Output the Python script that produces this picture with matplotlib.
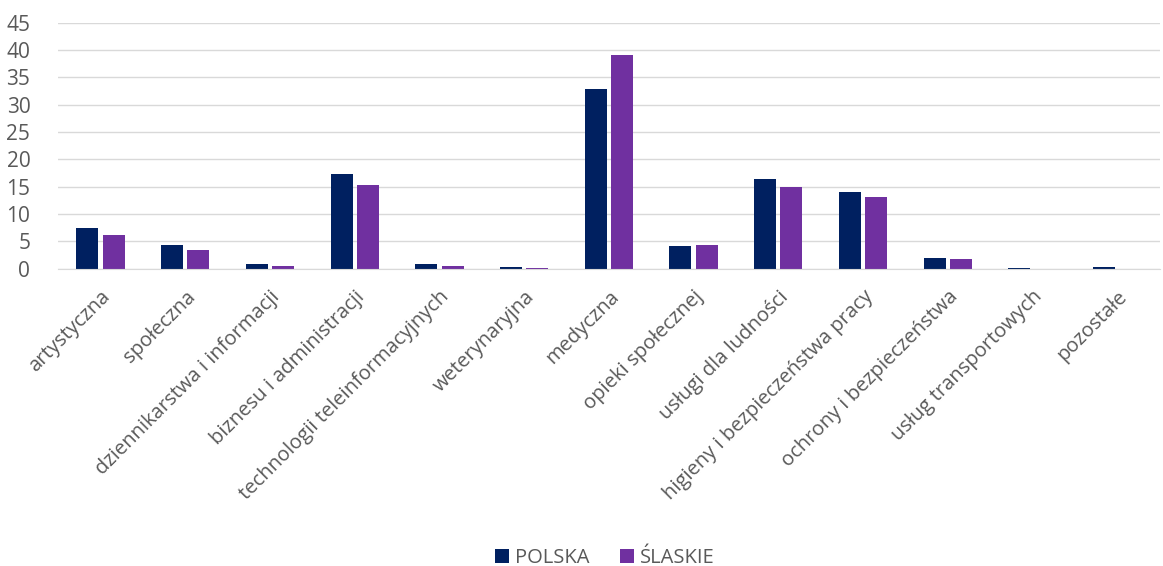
import matplotlib.pyplot as plt
import numpy as np

plt.rcParams['font.family'] = ['Open Sans', 'DejaVu Sans']

categories = ["artystyczna", "społeczna", "dziennikarstwa i informacji",
              "biznesu i administracji", "technologii teleinformacyjnych",
              "weterynaryjna", "medyczna", "opieki społecznej",
              "usługi dla ludności", "higieny i bezpieczeństwa pracy",
              "ochrony i bezpieczeństwa", "usług transportowych", "pozostałe"]
polska = [7.5, 4.4, 0.9, 17.4, 0.9, 0.4, 32.9, 4.2, 16.5, 14.1, 1.9, 0.2, 0.3]
slaskie = [6.2, 3.5, 0.5, 15.4, 0.5, 0.1, 39.0, 4.3, 15.0, 13.2, 1.8, 0.0, 0.0]

navy = '#002060'
purple = '#7030A0'
text_color = '#595959'

fig = plt.figure(figsize=(11.63, 5.66), dpi=100)
ax = fig.add_axes([0.05, 0.525, 0.947, 0.435])

x = np.arange(len(categories))
w = 0.26
gap = 0.05
ax.bar(x - w / 2 - gap / 2, polska, w, color=navy, label='POLSKA')
ax.bar(x + w / 2 + gap / 2, slaskie, w, color=purple, label='ŚLASKIE')

ax.set_xlim(-0.5, len(categories) - 0.5)
ax.set_ylim(0, 45)
ax.set_yticks(range(0, 46, 5))
ax.yaxis.grid(True, color='#d9d9d9', linewidth=1)
ax.set_axisbelow(True)
for s in ['top', 'right', 'left']:
    ax.spines[s].set_visible(False)
ax.spines['bottom'].set_color('#d9d9d9')
ax.tick_params(axis='both', length=0, colors=text_color, labelsize=15)
ax.tick_params(axis='y', pad=20)
ax.set_xticks(x)
ax.set_xticklabels(categories, rotation=45, ha='right', rotation_mode='anchor')
ax.tick_params(axis='x', pad=13)
for lbl in ax.get_xticklabels():
    lbl.set_fontsize(14.5)

fig.legend(loc='lower center', bbox_to_anchor=(0.52, -0.035), ncol=2, frameon=False,
           fontsize=14.5, handlelength=0.7, handleheight=0.7, handletextpad=0.3,
           columnspacing=1.5, labelcolor=text_color)

fig.savefig('out.png', dpi=100)
